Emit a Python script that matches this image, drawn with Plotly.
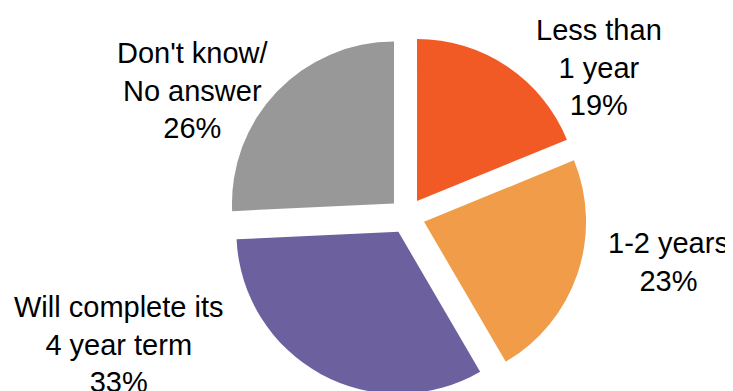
import plotly.graph_objects as go

# Data
labels = ["Less than<br>1 year", "1-2 years", "Will complete its<br>4 year term", "Don't know/<br>No answer"]
values = [19, 23, 33, 26]
colors = ["#F15A24", "#F09C48", "#6C619E", "#989898"]

W, H = 733, 391
OFF = 8  # page body margin offset

# Label placement in screen pixels (style only)
label_x = [599, 668, 119, 193]
label_y = [67, 262, 344, 90]

# Pie geometry in screen pixels (style only)
cx, cy, half = 407, 216, 180

fig = go.Figure(go.Pie(
    labels=labels,
    values=values,
    sort=False,
    direction="clockwise",
    rotation=0,
    pull=[18 / 162] * 4,
    marker=dict(colors=colors, line=dict(width=0)),
    textinfo="none",
    showlegend=False,
    domain=dict(
        x=[(cx - OFF - half) / W, (cx - OFF + half) / W],
        y=[1 - (cy - OFF + half) / H, 1 - (cy - OFF - half) / H],
    ),
))

for lab, val, px, py in zip(labels, values, label_x, label_y):
    fig.add_annotation(
        x=(px - OFF) / W, y=1 - (py - OFF) / H, xref="paper", yref="paper",
        text=f"{lab}<br>{val}%", showarrow=False,
        xanchor="center", yanchor="middle", align="center",
        font=dict(family="Liberation Sans, Arial, sans-serif", size=29, color="#000000"),
    )

fig.update_layout(
    width=W, height=H,
    margin=dict(l=0, r=0, t=0, b=0),
    paper_bgcolor="white", plot_bgcolor="white",
)

fig.write_html("out.html")
